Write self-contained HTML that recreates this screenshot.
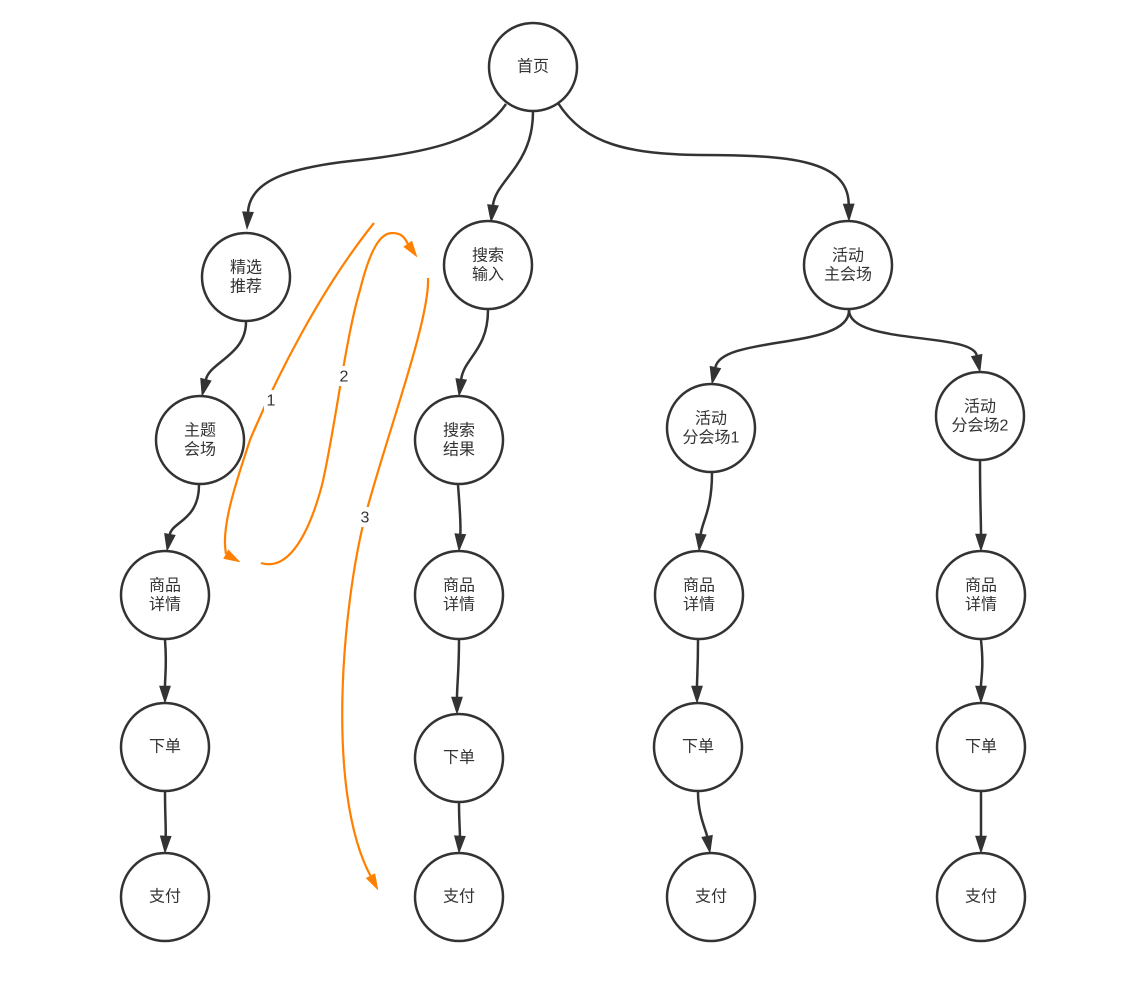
<!DOCTYPE html>
<html>
<head>
<meta charset="utf-8">
<style>
  html, body { margin: 0; padding: 0; background: #ffffff; }
  svg { display: block; }
  text { font-family: "Liberation Sans", "Noto Sans CJK SC", sans-serif; font-size: 16px; fill: #333333; }
</style>
</head>
<body>
<svg width="1142" height="985" viewBox="0 0 1142 985" xmlns="http://www.w3.org/2000/svg">

  <!-- black connectors -->
  <g fill="none" stroke="#333333" stroke-width="2.5">
    <path d="M506,104 C482,140 430,152 360,160 C290,167 250,180 248,212"/>
    <path d="M533,112 C533,165 496,180 493,205"/>
    <path d="M558,103 C585,145 630,154 700,155 C790,155 848,160 848.7,204"/>
    <path d="M246,322 C246,355 210,362 205.9,379.5"/>
    <path d="M199,485 C199,520 172,522 169.9,534.3"/>
    <path d="M488,310 C488,350 464,358 461.2,379.2"/>
    <path d="M458,485 C460,510 461,525 460.3,534"/>
    <path d="M849,310 C850,350 722,335 715.4,367.3"/>
    <path d="M849,310 C849,345 972,332 976.7,355.3"/>
    <path d="M712,473 C712,510 702,522 700.75,534.1"/>
    <path d="M980,461 C980,500 981,520 981,534"/>
    <path d="M165,640 C167,665 165,676 165,686"/>
    <path d="M165,791 C165,815 166,826 165.7,836"/>
    <path d="M459,640 C459,670 457,686 457,697"/>
    <path d="M459,802 C459,820 460,830 459.9,836"/>
    <path d="M698,640 C698,668 697,678 697,686"/>
    <path d="M698,792 C698,815 706,830 707.1,836.2"/>
    <path d="M981,640 C984,668 981,678 981,686"/>
    <path d="M981,792 C981,815 981,826 981,836"/>
  </g>
  <!-- black arrowheads -->
  <g fill="#333333" stroke="#333333" stroke-width="0.6" stroke-linejoin="miter">
    <polygon points="247,229 242.5,211.7 253.5,212.3"/>
    <polygon points="491,222 487.5,204.45 498.5,205.75"/>
    <polygon points="849,221 843.2,204.1 854.2,203.9"/>
    <polygon points="202,396 200.55,378.2 211.25,380.8"/>
    <polygon points="167,551 164.5,533.4 175.3,535.2"/>
    <polygon points="459,396 455.75,378.5 466.65,379.9"/>
    <polygon points="459,551 454.8,533.6 465.8,534.5"/>
    <polygon points="712,384 710.0,366.2 720.8,368.4"/>
    <polygon points="980,372 971.3,356.4 982.1,354.2"/>
    <polygon points="699,551 695.3,533.5 706.2,534.7"/>
    <polygon points="981,551 975.5,534 986.5,534"/>
    <polygon points="165,703 159.5,686 170.5,686"/>
    <polygon points="165,853 160.2,835.8 171.2,836.3"/>
    <polygon points="457,714 451.5,697 462.5,697"/>
    <polygon points="459,853 454.4,835.7 465.4,836.3"/>
    <polygon points="697,703 691.5,686 702.5,686"/>
    <polygon points="710,853 701.7,837.2 712.5,835.3"/>
    <polygon points="981,703 975.5,686 986.5,686"/>
    <polygon points="981,853 975.5,836 986.5,836"/>
  </g>

  <!-- orange connectors -->
  <g fill="none" stroke="#FF8000" stroke-width="2.2">
    <path d="M374,223 C320,290 275,380 250,440 C235,485 224,520 225,545 Q225.5,551 226,554"/>
    <path d="M261,563 C290,572 310,530 322,485 C335,430 345,340 360,290 C370,250 380,233 392,233 C402,233 405,238 407.8,243.9"/>
    <path d="M428,278 C430,320 385,440 365,517 C343,603 325,790 370.5,875.9"/>
  </g>
  <g fill="#FF8000" stroke="#FF8000" stroke-width="0.5">
    <polygon points="240,562 223.6,558.6 228.4,549.8"/>
    <polygon points="417,257 403.7,246.8 411.9,241.0"/>
    <polygon points="378,890 366.1,878.2 374.9,873.6"/>
  </g>

  <!-- orange labels -->
  <rect x="264" y="390" width="14" height="20" fill="#ffffff"/>
  <text x="271" y="401" text-anchor="middle" dominant-baseline="central">1</text>
  <rect x="337" y="366" width="14" height="20" fill="#ffffff"/>
  <text x="344" y="377" text-anchor="middle" dominant-baseline="central">2</text>
  <rect x="358" y="507" width="14" height="20" fill="#ffffff"/>
  <text x="365" y="518" text-anchor="middle" dominant-baseline="central">3</text>

  <!-- nodes -->
  <g fill="#ffffff" stroke="#333333" stroke-width="2.5">
    <circle cx="533" cy="67" r="44"/>
    <circle cx="246" cy="277" r="44"/>
    <circle cx="488" cy="265" r="44"/>
    <circle cx="848" cy="265" r="44"/>
    <circle cx="200" cy="440" r="44"/>
    <circle cx="459" cy="440" r="44"/>
    <circle cx="711" cy="428" r="44"/>
    <circle cx="980" cy="416" r="44"/>
    <circle cx="165" cy="595" r="44"/>
    <circle cx="459" cy="595" r="44"/>
    <circle cx="699" cy="595" r="44"/>
    <circle cx="981" cy="595" r="44"/>
    <circle cx="165" cy="747" r="44"/>
    <circle cx="459" cy="758" r="44"/>
    <circle cx="698" cy="747" r="44"/>
    <circle cx="981" cy="747" r="44"/>
    <circle cx="165" cy="897" r="44"/>
    <circle cx="459" cy="897" r="44"/>
    <circle cx="711" cy="897" r="44"/>
    <circle cx="981" cy="897" r="44"/>
  </g>

  <!-- node labels -->
  <g text-anchor="middle" dominant-baseline="central">
    <text x="533" y="67">首页</text>

    <text x="246" y="268">精选</text>
    <text x="246" y="287">推荐</text>

    <text x="488" y="256">搜索</text>
    <text x="488" y="275">输入</text>

    <text x="848" y="256">活动</text>
    <text x="848" y="275">主会场</text>

    <text x="200" y="431">主题</text>
    <text x="200" y="450">会场</text>

    <text x="459" y="431">搜索</text>
    <text x="459" y="450">结果</text>

    <text x="711" y="419">活动</text>
    <text x="711" y="438">分会场1</text>

    <text x="980" y="407">活动</text>
    <text x="980" y="426">分会场2</text>

    <text x="165" y="586">商品</text>
    <text x="165" y="605">详情</text>
    <text x="459" y="586">商品</text>
    <text x="459" y="605">详情</text>
    <text x="699" y="586">商品</text>
    <text x="699" y="605">详情</text>
    <text x="981" y="586">商品</text>
    <text x="981" y="605">详情</text>

    <text x="165" y="747">下单</text>
    <text x="459" y="758">下单</text>
    <text x="698" y="747">下单</text>
    <text x="981" y="747">下单</text>

    <text x="165" y="897">支付</text>
    <text x="459" y="897">支付</text>
    <text x="711" y="897">支付</text>
    <text x="981" y="897">支付</text>
  </g>
</svg>
</body>
</html>
